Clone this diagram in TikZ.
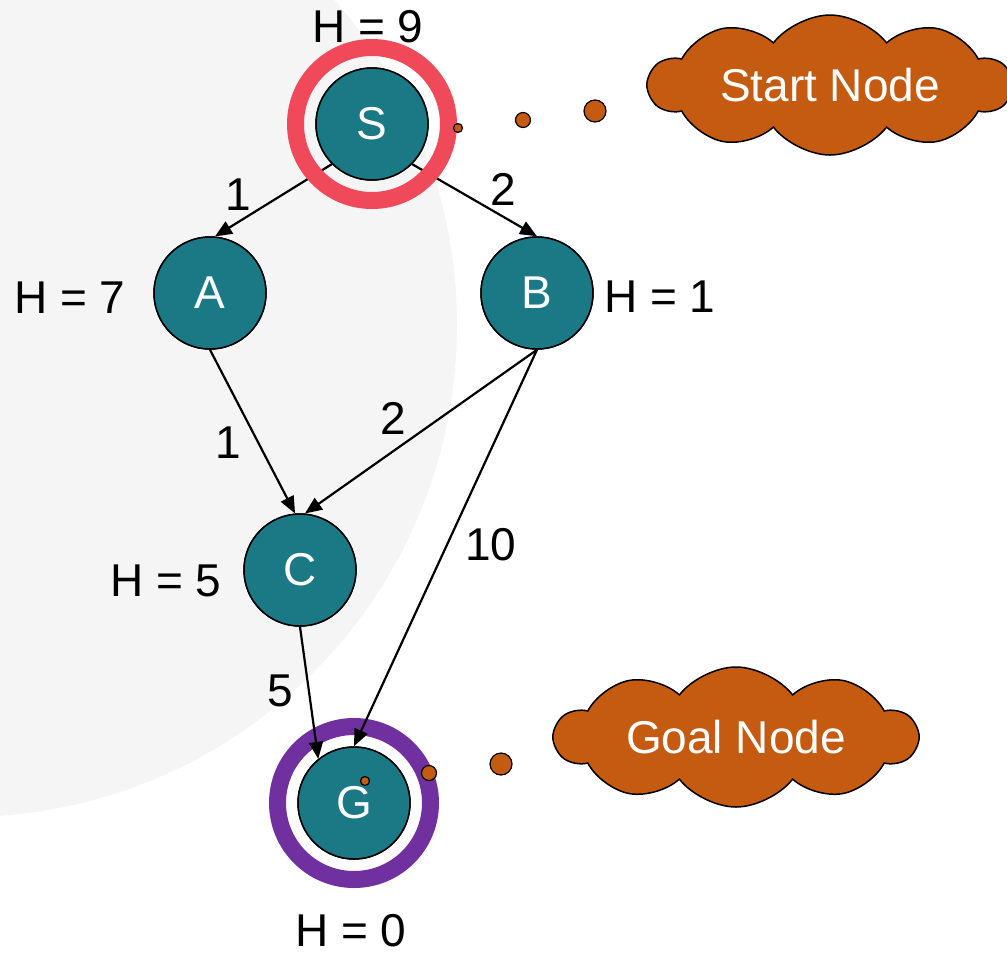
\documentclass[tikz,border=0pt]{standalone}
\usepackage{fontspec}
\setmainfont{Liberation Sans}
\usetikzlibrary{arrows.meta,shapes.symbols}
\definecolor{teal1}{RGB}{27,120,133}
\definecolor{ringred}{RGB}{240,74,90}
\definecolor{ringpurple}{RGB}{112,48,160}
\definecolor{cloudor}{RGB}{197,90,17}
\definecolor{bggrey}{RGB}{245,245,245}
\begin{document}
\begin{tikzpicture}[x=1pt,y=-1pt,
 every node/.style={font=\fontsize{46}{50}\selectfont},
 gnode/.style={circle, draw=black, line width=1.5pt, fill=teal1, text=white, minimum size=112pt, inner sep=0pt},
 lbl/.style={text=black, inner sep=0pt},
 edge/.style={draw=black, line width=2.2pt, -{Triangle[length=17pt,width=14pt]}},
 ring/.style={line width=17pt},
 cloudbox/.style={cloud, cloud puffs=10, cloud puff arc=105, cloud ignores aspect, minimum width=362pt, minimum height=140pt, inner sep=0pt, draw=black, line width=1.5pt, fill=cloudor, text=white},
 dot/.style={circle, draw=black, line width=1.2pt, fill=cloudor, inner sep=0pt}]
\useasboundingbox (0,0) rectangle (1007,954);
\clip (0,0) rectangle (1007,954);
\fill[bggrey] (-35,325) circle[radius=492];

% nodes
\node[gnode] (S) at (372,124) {S};
\node[gnode] (A) at (210,293) {A};
\node[gnode] (B) at (537,293) {B};
\node[gnode] (C) at (300,570) {C};
\node[gnode] (G) at (354,803) {G};

% goal ring (under edges)
\draw[ringpurple, ring] (G.center) circle[radius=76.5];

% edges
\draw[edge] (S.225) -- (A.85);
\draw[edge] (S.-45) -- (B.north);
\draw[edge] (A.south) -- (C.95);
\draw[edge] (B.south) -- (C.85);
\draw[edge] (B.south) -- (G.north);
\draw[edge] (C.south) -- (G.129);

% start ring (over edges)
\draw[ringred, ring] (S.center) circle[radius=76.5];

% redraw nodes on top
\node[gnode] at (S.center) {S};
\node[gnode] at (A.center) {A};
\node[gnode] at (B.center) {B};
\node[gnode] at (C.center) {C};
\node[gnode] at (G.center) {G};

% heuristic labels
\node[lbl] (hS) at (368,27) {H = 9};
\node[lbl] (hA) at (70,298) {H = 7};
\node[lbl] (hB) at (660,297) {H = 1};
\node[lbl] (hC) at (166,581) {H = 5};
\node[lbl] (hG) at (351,931) {H = 0};

% edge cost labels
\node[lbl] (cSA) at (238,195) {1};
\node[lbl] (cSB) at (503,189) {2};
\node[lbl] (cAC) at (228,443) {1};
\node[lbl] (cBC) at (393,418) {2};
\node[lbl] (cBG) at (491,545) {10};
\node[lbl] (cCG) at (280,691) {5};

% clouds
\node[cloudbox] (startc) at (830,85) {Start Node};
\node[cloudbox] (goalc) at (736,737) {Goal Node};

% thought dots
\node[dot, minimum size=9pt] (s1) at (458,128) {};
\node[dot, minimum size=15pt] (s2) at (523,120) {};
\node[dot, minimum size=22pt] (s3) at (595,111) {};
\node[dot, minimum size=9pt] (g1) at (365,781) {};
\node[dot, minimum size=15pt] (g2) at (429,773) {};
\node[dot, minimum size=22pt] (g3) at (501,764) {};
\end{tikzpicture}
\end{document}
